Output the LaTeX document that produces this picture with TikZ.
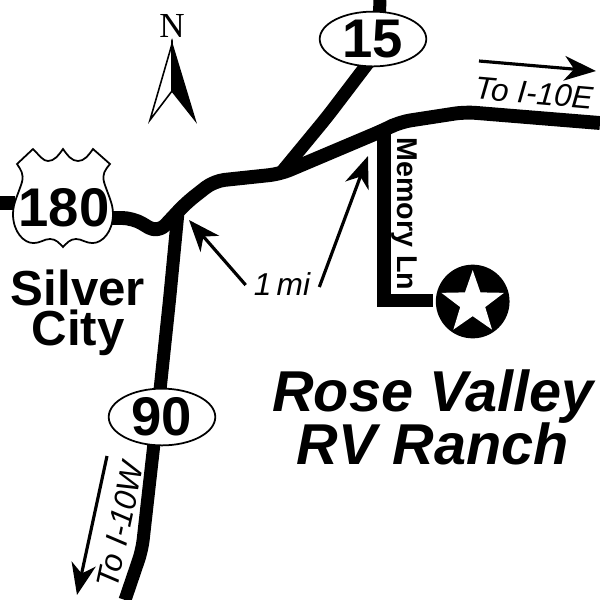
\documentclass[tikz,border=0pt]{standalone}
\usepackage{fontspec}
\setmainfont{Liberation Sans}
\newfontfamily\serifn{Liberation Serif}
\usetikzlibrary{positioning, arrows.meta, shapes.geometric}

\tikzset{
  road/.style={line width=7.9pt, line join=round, rounded corners=6pt},
  pointer/.style={line width=1.8pt, -{Stealth[length=18pt, width=14pt, inset=5.5pt]}},
  badge/.style={ellipse, draw, line width=1pt, fill=white, inner sep=0pt, font=\fontsize{31}{31}\selectfont\bfseries},
  placename/.style={font=\fontsize{28}{23}\selectfont\bfseries, align=center},
  ranchname/.style={font=\fontsize{32.8}{30.6}\selectfont\bfseries\itshape, align=center},
  note/.style={font=\fontsize{18}{18}\selectfont\itshape},
}

\begin{document}
\begin{tikzpicture}[x=0.02cm, y=-0.02cm]
\useasboundingbox (0,0) rectangle (600,600);

\coordinate (west) at (0,203) ;
\coordinate (east) at (600,123) ;
\coordinate (north) at (380,0) ;
\coordinate (south) at (125,600) ;
\coordinate (split) at (280,174) ;
\coordinate (join90) at (178,212) ;
\coordinate (lane) at (384,130) ;
\coordinate (lanebend) at (384,300) ;
\coordinate (laneend) at (433,300) ;

\node[circle, fill=black, minimum size=74*0.5669pt, inner sep=0pt] at (472.7,301.5) (site) {} ;
\node[star, star points=5, star point ratio=2.5, fill=white, minimum size=66*0.5669pt, inner sep=0pt] at (472.7,303) (sitestar) {} ;

\draw[road] (west) -- (15,203) ;
\draw[road] (100,218) -- (133,218) -- (158,233) -- (186,203) -- (214,181) -- (split) -- (lane) -- (400,122) -- (465,112) -- (east) ;
\draw[road, line width=7.4pt] (join90) -- (169.5,300) -- (160,390) -- (142,550) -- (south) ;
\draw[road, line width=7.4pt] (split) -- (327,117) -- (378,50) -- (north) ;
\draw[line width=7.4pt, line join=miter] (lane) -- (lanebend) -- (laneend) ;

\draw[line width=1pt, fill=white]
  (33,149) .. controls (40,156) and (43,161) .. (48,161)
  .. controls (54,161) and (58,156) .. (63,149)
  .. controls (68,156) and (72,161) .. (78,161)
  .. controls (84,161) and (88,156) .. (93,149)
  -- (110,164) .. controls (105,170) and (102,174) .. (104,182)
  .. controls (108,195) and (113,203) .. (113,214)
  .. controls (113,232) and (102,243) .. (93,243)
  .. controls (85,243) and (82,239) .. (76,239)
  .. controls (70,239) and (67,243) .. (63,247)
  .. controls (59,243) and (56,239) .. (50,239)
  .. controls (44,239) and (41,243) .. (33,243)
  .. controls (24,243) and (13,232) .. (13,214)
  .. controls (13,203) and (18,195) .. (22,182)
  .. controls (24,174) and (21,170) .. (17,164) -- cycle ;
\node[font=\fontsize{31}{31}\selectfont\bfseries] at (64,208) (shield) {180} ;

\node[badge, minimum width=107*0.5669pt, minimum height=55*0.5669pt] at (373,39) (badge15) {15} ;
\node[badge, minimum width=107*0.5669pt, minimum height=57*0.5669pt] at (162,417) (badge90) {90} ;

\draw[line width=0.9pt, fill=white, line join=miter] (172,44) -- (150,120) -- (172,91) -- cycle ;
\draw[line width=0.9pt, fill=black, line join=miter] (172,44) -- (195,120) -- (172,91) -- cycle ;
\node[font=\fontsize{20}{20}\serifn] at (172,26) (northmark) {N} ;

\node[placename] at (78,313) (town) {Silver\\City} ;
\node[ranchname] at (433,417.5) (ranch) {Rose Valley\\RV Ranch} ;
\node[font=\fontsize{16.3}{16}\selectfont\bfseries, rotate=-90] at (404,214) (lanename) {Memory Ln} ;
\node[note] at (282,284) (dist) {1\,mi} ;
\node[note, rotate=-5] at (534,93) (toeast) {To I-10E} ;
\node[note, rotate=78] at (120,525) (towest) {To I-10W} ;

\coordinate (eastfrom) at (479,61) ;
\coordinate (eastto) at (596,71) ;
\coordinate (westfrom) at (107,456) ;
\coordinate (westto) at (77,595) ;
\coordinate (exit90) at (189,220) ;
\coordinate (exitlane) at (368,156) ;

\draw[pointer] (dist.west) ++(-2,1) -- (exit90) ;
\draw[pointer] (dist.east) ++(3,3) -- (exitlane) ;
\draw[pointer] (eastfrom) -- (eastto) ;
\draw[pointer] (westfrom) -- (westto) ;
\end{tikzpicture}
\end{document}
